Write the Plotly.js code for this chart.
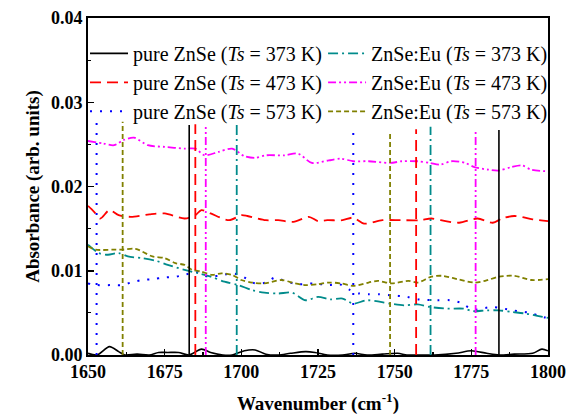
<!DOCTYPE html>
<html>
<head>
<meta charset="utf-8">
<script src="https://cdn.plot.ly/plotly-3.0.1.min.js"></script>
<style>html,body{margin:0;padding:0;background:#fff;}#chart{width:569px;height:416px;}</style>
</head>
<body>
<div id="chart"></div>
<script>
// ---- data ----
const seriesNames = [
  'pure ZnSe (<i>Ts</i> = 373 K)', 'pure ZnSe (<i>Ts</i> = 473 K)', 'pure ZnSe (<i>Ts</i> = 573 K)',
  'ZnSe:Eu (<i>Ts</i> = 373 K)', 'ZnSe:Eu (<i>Ts</i> = 473 K)', 'ZnSe:Eu (<i>Ts</i> = 573 K)'
];

const pure373X = [1650,1653,1657,1660,1662,1666,1670,1673,1676,1679.5,1683,1687,1690,1694,1697,1701,1704.5,1708,1712,1716,1721,1724,1728,1733,1737,1741,1746,1751,1754,1759,1763,1770,1775,1780,1784,1789,1795,1798,1800];
const pure373Y = [0.0002,0,0.0010,0.0004,0,0.0001,0,0.0003,0.0003,0.0003,0,0.0007,0.0003,0,0,0.0005,0.0006,0.0001,0,0.0002,0.0004,0.0003,0,0,0.0002,0,0.0001,0.0002,0,0,0,0.0002,0.0005,0.0002,0,0.0001,0.0002,0.0007,0.0005];

const pure473X = [1650,1652,1654,1657,1660,1664,1670,1675,1681.5,1685,1687,1690,1696,1700,1702,1708,1712,1717,1722,1725,1728,1733,1736.5,1740,1746,1752,1758,1762,1765,1771,1777,1782,1785,1789,1795,1800];
const pure473Y = [0.0177,0.0170,0.0162,0.0172,0.0166,0.0164,0.0167,0.0168,0.0162,0.0166,0.0172,0.0168,0.0160,0.0166,0.0165,0.0160,0.0160,0.0158,0.0164,0.0159,0.0160,0.0160,0.0163,0.0156,0.0160,0.0160,0.0160,0.0162,0.0160,0.0157,0.0162,0.0157,0.0162,0.0165,0.0161,0.0159];

const pure573X = [1650,1653,1658,1661,1664,1667.5,1671,1675,1678.5,1681.5,1685,1688,1692.5,1697,1700,1704.5,1708,1711,1714,1718.5,1723.5,1728.5,1732,1735,1738.5,1741.5,1745,1748.5,1754,1758,1764,1768,1771.5,1775.5,1782,1788.5,1794,1798.5,1800];
const pure573Y = [0.0085,0.0083,0.0083,0.0083,0.0086,0.0089,0.0090,0.0092,0.0093,0.0095,0.0099,0.0094,0.0094,0.0097,0.0094,0.0085,0.0086,0.0092,0.0088,0.0084,0.0085,0.0083,0.0084,0.0078,0.0073,0.0072,0.0072,0.0071,0.0069,0.0066,0.0065,0.0065,0.0062,0.0054,0.0057,0.0053,0.0050,0.0045,0.0044];

const eu373X = [1650,1653.5,1656.5,1660,1663,1667.5,1672,1676,1681.5,1686,1690,1694.5,1699,1703.5,1707.5,1712,1716.5,1721,1725,1729,1733,1736.5,1741,1748.5,1753,1757.5,1761.5,1767,1772.5,1775.5,1780,1784,1788.5,1793,1800];
const eu373Y = [0.0131,0.0121,0.0119,0.0121,0.0117,0.0115,0.0112,0.0107,0.0101,0.0097,0.0093,0.0087,0.0083,0.0077,0.0074,0.0073,0.0074,0.0065,0.0069,0.0066,0.0067,0.0061,0.0065,0.0061,0.0059,0.0060,0.0057,0.0055,0.0055,0.0052,0.0053,0.0053,0.0051,0.0049,0.0044];

const eu473X = [1650,1655,1658.5,1661.5,1665,1669.5,1675,1681.5,1685,1688,1692.5,1697,1701,1704.5,1708,1714,1718.5,1723,1728.5,1732.5,1736.5,1741.5,1748.5,1752.5,1757.5,1761.5,1765,1768.5,1773,1776,1780.5,1784,1788,1791.5,1794.5,1800];
const eu473Y = [0.0254,0.0251,0.0249,0.0255,0.0258,0.0249,0.0247,0.0245,0.0245,0.0237,0.0241,0.0245,0.0236,0.0234,0.0237,0.0237,0.0239,0.0228,0.0231,0.0233,0.0230,0.0230,0.0228,0.0230,0.0230,0.0228,0.0226,0.0230,0.0228,0.0223,0.0220,0.0219,0.0223,0.0225,0.0220,0.0218];

const eu573X = [1650,1652.5,1658,1661,1665.5,1671,1675,1678.5,1681.5,1684,1687,1690.5,1693.5,1697,1700,1703.5,1707.5,1713,1717.5,1721,1725,1728.5,1732.5,1736.5,1741.5,1744.5,1749,1754.5,1757.5,1762,1765.5,1770.5,1776,1779.5,1784,1789,1794.5,1800];
const eu573Y = [0.0129,0.0125,0.0125,0.0125,0.0126,0.0117,0.0115,0.0109,0.0107,0.0101,0.0099,0.0095,0.0097,0.0095,0.0089,0.0086,0.0085,0.0089,0.0085,0.0083,0.0084,0.0086,0.0085,0.0082,0.0086,0.0088,0.0085,0.0088,0.0086,0.0093,0.0094,0.0090,0.0086,0.0088,0.0093,0.0094,0.0089,0.0090];

// vertical spikes (x position, top value) for each series
const pure373SpikeX = [1683, 1784];     const pure373SpikeTop = [0.0273, 0.0267];
const pure473SpikeX = [1685, 1757];     const pure473SpikeTop = [0.0274, 0.0268];
const pure573SpikeX = [1652.8, 1736.5]; const pure573SpikeTop = [0.0277, 0.0271];
const eu373SpikeX   = [1698.5, 1761.7]; const eu373SpikeTop   = [0.0273, 0.0271];
const eu473SpikeX   = [1688.4, 1776.4]; const eu473SpikeTop   = [0.0272, 0.0268];
const eu573SpikeX   = [1661.3, 1748.5]; const eu573SpikeTop   = [0.0277, 0.0265];

const xTicks = [1650, 1675, 1700, 1725, 1750, 1775, 1800];
const yTicks = [0.00, 0.01, 0.02, 0.03, 0.04];

// ---- styles ----
const styles = [
  {color:'#000000', dash:'solid', width:1.6},
  {color:'#FF0000', dash:'11px,6px', width:1.8},
  {color:'#0000FF', dash:'2px,8px', width:2},
  {color:'#008B8B', dash:'10px,4px,2px,4px', width:1.8},
  {color:'#FF00FF', dash:'8px,3px,2px,3px,2px,3px', width:1.8},
  {color:'#808000', dash:'5px,3px', width:1.8}
];
const legendIds = ['legend','legend','legend','legend2','legend2','legend2'];
const xs = [pure373X, pure473X, pure573X, eu373X, eu473X, eu573X];
const ys = [pure373Y, pure473Y, pure573Y, eu373Y, eu473Y, eu573Y];
const spX = [pure373SpikeX, pure473SpikeX, pure573SpikeX, eu373SpikeX, eu473SpikeX, eu573SpikeX];
const spT = [pure373SpikeTop, pure473SpikeTop, pure573SpikeTop, eu373SpikeTop, eu473SpikeTop, eu573SpikeTop];

const traces = [];
for (let i = 0; i < 6; i++) {
  traces.push({
    x: xs[i], y: ys[i], type:'scatter', mode:'lines', name: seriesNames[i],
    legend: legendIds[i], legendgroup: 'g'+i,
    line: {color: styles[i].color, dash: styles[i].dash, width: styles[i].width, shape:'spline', smoothing:0.8}
  });
}
for (let i = 0; i < 6; i++) {
  const sx = [], sy = [];
  spX[i].forEach((v, k) => { sx.push(v, v, null); sy.push(0, spT[i][k], null); });
  traces.push({
    x: sx, y: sy, type:'scatter', mode:'lines', showlegend:false, legendgroup:'g'+i,
    line: {color: styles[i].color, dash: styles[i].dash, width: styles[i].width}
  });
}

const FONT = 'Liberation Serif, Times New Roman, serif';
const legendBase = {
  orientation:'v', xanchor:'left', y:0.953, yanchor:'top', itemwidth: 38,
  bgcolor:'rgba(0,0,0,0)', borderwidth:0, traceorder:'normal', tracegroupgap:0,
  font: {family: FONT, size: 20, color:'#000'}
};
const layout = {
  width: 569, height: 416,
  paper_bgcolor:'#ffffff', plot_bgcolor:'#ffffff',
  margin: {l:88, r:21, t:18, b:61},
  showlegend: true,
  legend: Object.assign({}, legendBase, {x:-0.0065}),
  legend2: Object.assign({}, legendBase, {x:0.511}),
  xaxis: {
    range:[1650,1800], tickvals: xTicks, ticktext: xTicks.map(String),
    showline:true, linecolor:'#000', linewidth:1.8, mirror:true,
    ticks:'inside', ticklen:6, tickwidth:1.5, tickcolor:'#000',
    minor: {ticks:'inside', ticklen:3, tickwidth:1.2, dtick:12.5, tickcolor:'#000'},
    showgrid:false, zeroline:false,
    tickfont: {family: FONT, size: 18, color:'#000', weight:700},
    title: {text:'Wavenumber (cm<sup>-1</sup>)', font:{family: FONT, size:19, color:'#000', weight:700}, standoff: 15}
  },
  yaxis: {
    range:[0,0.04], tickvals: yTicks, ticktext: yTicks.map(v => v.toFixed(2)),
    showline:true, linecolor:'#000', linewidth:1.8, mirror:true,
    ticks:'inside', ticklen:6, tickwidth:1.5, tickcolor:'#000',
    minor: {ticks:'inside', ticklen:3, tickwidth:1.2, dtick:0.005, tickcolor:'#000'},
    showgrid:false, zeroline:false,
    tickfont: {family: FONT, size: 18, color:'#000', weight:700},
    title: {text:'Absorbance (arb. units)', font:{family: FONT, size:19, color:'#000', weight:700}, standoff: 6}
  }
};

Plotly.newPlot('chart', traces, layout, {displayModeBar:false, staticPlot:true});
</script>
</body>
</html>
